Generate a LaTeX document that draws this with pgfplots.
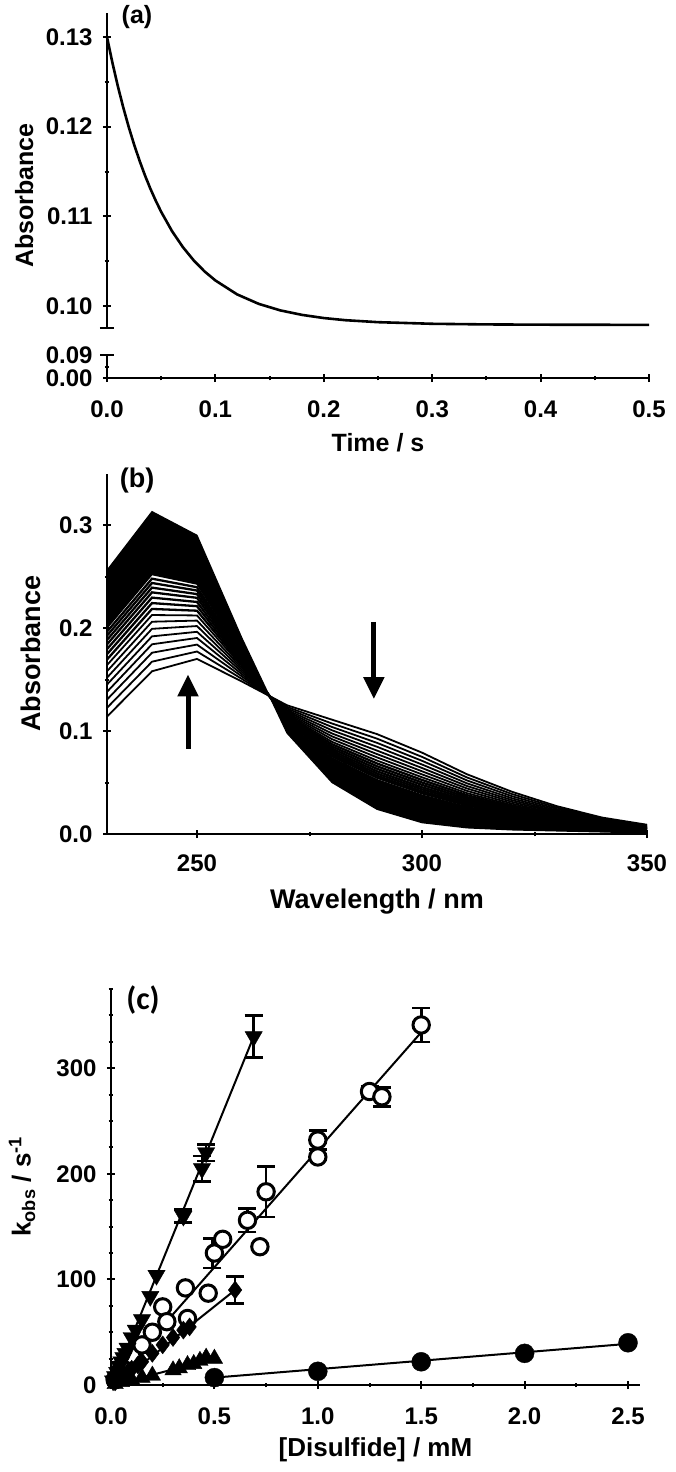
\documentclass[border=0pt]{standalone}
\usepackage{fontspec}
\setmainfont{Liberation Sans}
\newfontfamily\calibri{Carlito}
\usepackage{pgfplots}
\pgfplotsset{compat=1.18}
\usepackage{pgfplotstable}
\usetikzlibrary{arrows.meta}

\pgfplotsset{
  myaxis/.style={
    scale only axis,
    every tick/.style={line width=2pt, black},
    tick align=outside,
    major tick length=8pt,
    minor tick length=4.5pt,
    tick label style={font=\fontsize{24pt}{24pt}\selectfont\bfseries},
    xticklabel style={yshift=-15pt},
    yticklabel style={xshift=-7pt},
    /pgf/number format/assume math mode=true,
    label style={font=\fontsize{25pt}{25pt}\selectfont\bfseries},
    clip=false,
    scaled ticks=false,
  },
  noarrows/.style={
    axis line style={line width=2.4pt, -},
    every outer x axis line/.append style={-},
    every outer y axis line/.append style={-},
    every inner x axis line/.append style={-},
    every inner y axis line/.append style={-},
  },
  fix2/.style={/pgf/number format/fixed, /pgf/number format/fixed zerofill, /pgf/number format/precision=2},
  fix1/.style={/pgf/number format/fixed, /pgf/number format/fixed zerofill, /pgf/number format/precision=1},
}

\pgfplotstableread{
wl c0 c1 c2 c3 c4 c5 c6 c7 c8 c9 c10 c11 c12 c13 c14 c15 cF
230 0.1140 0.1225 0.1305 0.1380 0.1451 0.1518 0.1580 0.1640 0.1694 0.1746 0.1795 0.1841 0.1884 0.1925 0.1964 0.1999 0.256
240 0.1580 0.1673 0.1760 0.1842 0.1919 0.1992 0.2061 0.2126 0.2185 0.2242 0.2295 0.2346 0.2392 0.2437 0.2479 0.2518 0.313
250 0.1700 0.1772 0.1839 0.1903 0.1963 0.2019 0.2072 0.2122 0.2168 0.2212 0.2253 0.2293 0.2329 0.2364 0.2396 0.2426 0.290
260 0.1480 0.1505 0.1529 0.1551 0.1572 0.1592 0.1610 0.1628 0.1644 0.1659 0.1674 0.1687 0.1700 0.1712 0.1724 0.1734 0.190
270 0.1250 0.1234 0.1219 0.1204 0.1191 0.1178 0.1166 0.1155 0.1145 0.1135 0.1126 0.1117 0.1109 0.1101 0.1093 0.1087 0.098
280 0.1110 0.1073 0.1039 0.1007 0.0976 0.0948 0.0921 0.0895 0.0872 0.0850 0.0829 0.0809 0.0790 0.0773 0.0756 0.0741 0.050
290 0.0970 0.0926 0.0885 0.0847 0.0810 0.0776 0.0744 0.0713 0.0685 0.0658 0.0633 0.0609 0.0587 0.0566 0.0547 0.0528 0.024
300 0.0790 0.0749 0.0711 0.0675 0.0641 0.0609 0.0579 0.0551 0.0525 0.0500 0.0477 0.0454 0.0434 0.0414 0.0396 0.0379 0.011
310 0.0580 0.0549 0.0520 0.0492 0.0466 0.0442 0.0419 0.0397 0.0377 0.0358 0.0340 0.0323 0.0308 0.0292 0.0278 0.0265 0.006
320 0.0410 0.0388 0.0367 0.0347 0.0329 0.0312 0.0295 0.0280 0.0266 0.0252 0.0239 0.0227 0.0216 0.0205 0.0195 0.0186 0.004
330 0.0270 0.0256 0.0242 0.0229 0.0217 0.0206 0.0196 0.0186 0.0176 0.0168 0.0159 0.0151 0.0144 0.0137 0.0131 0.0125 0.003
340 0.0160 0.0152 0.0144 0.0136 0.0129 0.0123 0.0117 0.0111 0.0105 0.0100 0.0095 0.0091 0.0087 0.0083 0.0079 0.0075 0.002
350 0.0090 0.0085 0.0081 0.0076 0.0072 0.0069 0.0065 0.0062 0.0059 0.0056 0.0053 0.0050 0.0048 0.0046 0.0044 0.0042 0.001
}\spectra

\begin{document}
\begin{tikzpicture}
\path[use as bounding box] (0,0) rectangle (675pt,-1472pt);

% ---------------- Panel (a), upper part ----------------
\begin{axis}[myaxis,
  at={(107pt,-328pt)}, anchor=south west,
  width=542pt, height=315pt,
  xmin=0, xmax=0.5, ymin=0.09755, ymax=0.13268,
  axis x line=none, axis y line=left,
  ytick={0.10,0.11,0.12,0.13},
  minor ytick={0.105,0.115,0.125},
  yticklabel style={fix2},
  ylabel={Absorbance},
  ylabel style={at={(axis description cs:-0.153,0.42)}, anchor=center},
  noarrows,
]
\addplot[black, line width=2.6pt] coordinates {
(0,0.1300) (0.005,0.12713) (0.01,0.12452) (0.015,0.12215) (0.02,0.11998)
(0.025,0.11801) (0.03,0.11622) (0.035,0.11458) (0.04,0.11309) (0.045,0.11174)
(0.05,0.11050) (0.06,0.10835) (0.07,0.10657) (0.08,0.10509) (0.09,0.10386)
(0.10,0.10285) (0.12,0.10130) (0.14,0.10024) (0.16,0.09951) (0.18,0.09901)
(0.20,0.09866) (0.22,0.09842) (0.25,0.09820) (0.30,0.09802) (0.35,0.09795)
(0.40,0.09792) (0.45,0.09791) (0.50,0.09790)
};
\draw[line width=2.4pt] ([xshift=-7pt]axis cs:0,0.09755) -- ([xshift=7pt]axis cs:0,0.09755);
\end{axis}

% ---------------- Panel (a), lower part ----------------
\begin{axis}[myaxis,
  at={(107pt,-378pt)}, anchor=south west,
  width=542pt, height=23pt,
  xmin=0, xmax=0.5, ymin=0, ymax=0.09,
  axis x line=bottom, axis y line=left,
  xtick={0,0.1,0.2,0.3,0.4,0.5},
  minor xtick={0.05,0.15,0.25,0.35,0.45},
  xticklabel style={fix1},
  ytick={0,0.09}, minor ytick={0.045},
  yticklabel style={fix2},
  xlabel={Time / s},
  xlabel style={at={(axis description cs:0.5,0)}, anchor=center, yshift=-65pt},
  noarrows,
]
\addplot[draw=none] coordinates {(0,0) (0.5,0)};
\draw[line width=2.4pt] ([xshift=-7pt]axis cs:0,0.09) -- ([xshift=7pt]axis cs:0,0.09);
\end{axis}
\node[font=\fontsize{25pt}{25pt}\selectfont\bfseries] at (137pt,-17pt) {(a)};

% ---------------- Panel (b) ----------------
\begin{axis}[myaxis,
  at={(107pt,-834pt)}, anchor=south west,
  width=540pt, height=360.5pt,
  xmin=230, xmax=350, ymin=0, ymax=0.35,
  clip=true,
  axis x line=bottom, axis y line=left,
  xtick={250,300,350}, minor xtick={275,325},
  ytick={0,0.1,0.2,0.3}, minor ytick={0.05,0.15,0.25},
  xticklabel style={yshift=2pt},
  yticklabel style={fix1},
  label style={font=\fontsize{27pt}{27pt}\selectfont\bfseries},
  xlabel={Wavelength / nm},
  xlabel style={at={(axis description cs:0.5,0)}, anchor=center, yshift=-68pt},
  ylabel={Absorbance},
  ylabel style={at={(axis description cs:-0.141,0.50)}, anchor=center},
  noarrows,
]
\addplot[black, fill=black, line width=1.2pt] coordinates {
(230,0.1999) (240,0.2518) (250,0.2426) (260,0.1734) (270,0.1087) (280,0.0741)
(290,0.0528) (300,0.0379) (310,0.0265) (320,0.0186) (330,0.0125) (340,0.0075) (350,0.0042)
(350,0.001) (340,0.002) (330,0.003) (320,0.004) (310,0.006) (300,0.011) (290,0.024)
(280,0.050) (270,0.098) (260,0.190) (250,0.290) (240,0.313) (230,0.256) (230,0.1999)
};
\pgfplotsinvokeforeach{0,...,7}{
  \addplot[black, line width=1.8pt] table[x=wl, y=c#1] {\spectra};
}
\pgfplotsinvokeforeach{8,...,14}{
  \addplot[black, line width=2.3pt] table[x=wl, y=c#1] {\spectra};
}
\draw[line width=5pt, -{Triangle[width=20pt,length=22pt]}] (axis cs:248,0.083) -- (axis cs:248,0.155);
\draw[line width=5pt, -{Triangle[width=20pt,length=22pt]}] (axis cs:289.3,0.206) -- (axis cs:289.3,0.131);
\end{axis}
\node[font=\fontsize{27pt}{27pt}\selectfont\bfseries] at (137pt,-481pt) {(b)};

% ---------------- Panel (c) ----------------
\begin{axis}[myaxis,
  at={(111pt,-1385pt)}, anchor=south west,
  width=529pt, height=397pt,
  xmin=0, xmax=2.558, ymin=0, ymax=376,
  clip=true, clip mode=individual,
  axis x line=bottom, axis y line=left,
  xtick={0,0.5,1.0,1.5,2.0,2.5},
  minor xtick={0.25,0.75,1.25,1.75,2.25},
  ytick={0,100,200,300},
  minor ytick={25,50,75,125,150,175,225,250,275,325,350,375},
  xticklabel style={fix1},
  label style={font=\fontsize{26pt}{26pt}\selectfont\bfseries},
  xlabel={[Disulfide] / mM},
  xlabel style={at={(axis description cs:0.5,0)}, anchor=center, yshift=-65pt},
  ylabel={k\textsubscript{obs} / s\textsuperscript{-1}},
  ylabel style={at={(axis description cs:-0.168,0.50)}, anchor=center},
  noarrows,
]
% fitted lines
\addplot[black, line width=2pt] coordinates {(0.03,12) (0.69,330)};
\addplot[black, line width=2pt] coordinates {(0.03,7) (1.5,334)};
\addplot[black, line width=2pt] coordinates {(0.03,1) (0.6,90)};
\addplot[black, line width=2pt] coordinates {(0.03,1) (0.5,25)};
\addplot[black, line width=2pt] coordinates {(0.5,7) (2.5,39)};
% error bars
\addplot[only marks, mark=none, forget plot,
  error bars/.cd, y dir=both, y explicit,
  error bar style={draw=black, line width=2.6pt},
  error mark options={rotate=90, draw=black, line width=2.6pt, mark size=9pt}]
 coordinates {
 (0.69,330) +- (0,20)
 (0.46,220) +- (0,8)
 (0.44,205) +- (0,12)
 (0.35,160) +- (0,6)
 (1.5,341) +- (0,16)
 (1.25,278) +- (0,5)
 (1.31,273) +- (0,9)
 (1.0,232) +- (0,9)
 (0.75,183) +- (0,24)
 (0.66,156) +- (0,11)
 (0.49,125) +- (0,14)
 (0.6,90) +- (0,13)
};
% open circles
\addplot[only marks, mark=*, mark size=8.2pt, mark options={fill=white, draw=black, line width=3pt}] coordinates {
(0.02,5) (0.05,15) (0.08,22) (0.1,28) (0.15,38) (0.2,50) (0.25,74) (0.27,60)
(0.36,92) (0.37,63) (0.47,87) (0.50,125) (0.54,138) (0.66,156) (0.72,131)
(0.75,183) (1.0,216) (1.0,232) (1.25,278) (1.31,273) (1.5,341)
};
% down triangles
\addplot[only marks, mark=triangle*, mark size=10pt, mark options={rotate=180, fill=black, draw=black}] coordinates {
(0.01,4) (0.02,8) (0.03,12) (0.04,18) (0.05,22) (0.06,26) (0.07,30) (0.08,35) (0.1,45) (0.12,52) (0.15,62) (0.19,84)
(0.22,104) (0.35,160) (0.44,205) (0.46,220) (0.69,330)
};
% diamonds
\addplot[only marks, mark=diamond*, mark size=9pt, mark options={fill=black, draw=black}] coordinates {
(0.02,3) (0.05,8) (0.08,12) (0.1,15) (0.13,19) (0.15,22) (0.2,30) (0.25,38) (0.3,45) (0.35,52) (0.38,55) (0.6,90)
};
% up triangles
\addplot[only marks, mark=triangle*, mark size=9.5pt, mark options={fill=black, draw=black}] coordinates {
(0.02,1) (0.05,3) (0.08,4) (0.1,5) (0.15,7) (0.2,9) (0.3,14) (0.33,16)
(0.37,19) (0.4,20) (0.43,23) (0.46,26) (0.5,25)
};
% filled circles
\addplot[only marks, mark=*, mark size=9.5pt, mark options={fill=black, draw=black}] coordinates {
(0.5,7) (1.0,13) (1.5,22) (2.0,30) (2.5,40)
};
\end{axis}
\node[font=\fontsize{32pt}{32pt}\selectfont\calibri\bfseries] at (143pt,-1000pt) {(c)};

\end{tikzpicture}
\end{document}
